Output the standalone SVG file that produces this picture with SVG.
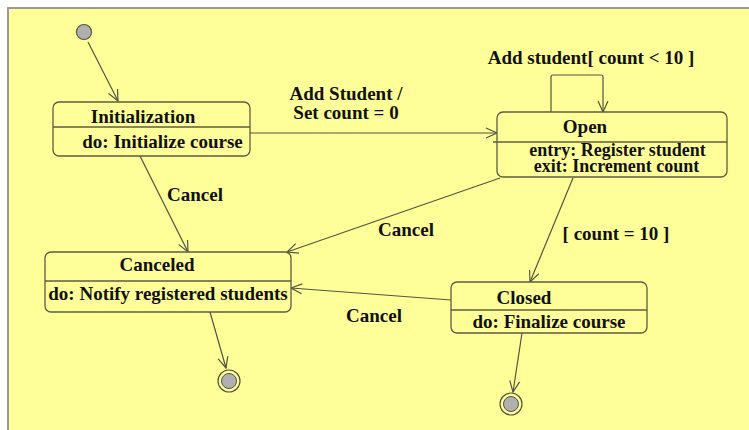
<svg xmlns="http://www.w3.org/2000/svg" width="749" height="430" viewBox="0 0 749 430">
<style>
.box{fill:#FFFF99;stroke:#5c5c40;stroke-width:1.3}
.div{stroke:#5c5c40;stroke-width:1.3}
.t{font-family:'Liberation Serif','Times New Roman',serif;font-weight:bold;font-size:19px;fill:#111;text-anchor:middle}
.s{font-size:18px}
.e{fill:none;stroke:#55553f;stroke-width:1.2;marker-end:url(#arr)}
.ini{fill:#b0b0b0;stroke:#55553f;stroke-width:1.2}
</style>
<defs>
<marker id="arr" markerUnits="userSpaceOnUse" markerWidth="14" markerHeight="14" viewBox="-12 -7 14 14" refX="0" refY="0" orient="auto">
<path d="M-11,-5 L0,0 L-11,5" fill="none" stroke="#55553f" stroke-width="1.2"/>
</marker>
</defs>
<rect x="0" y="0" width="749" height="430" fill="#ffffff"/>
<rect x="8" y="8" width="745" height="426" fill="#FFFF99" stroke="#999999" stroke-width="2"/>
<g id="connectors" font-family="Liberation Serif, serif">
<line class="e" x1="88" y1="42" x2="118" y2="101"/>
<line class="e" x1="250" y1="133" x2="497" y2="133"/>
<path class="e" d="M551,112 V77 Q551,75 553,75 H601 Q603,75 603,77 V112"/>
<line class="e" x1="140" y1="156" x2="188" y2="252"/>
<line class="e" x1="500" y1="178" x2="287" y2="252"/>
<line class="e" x1="573" y1="178" x2="530" y2="282"/>
<line class="e" x1="451" y1="300" x2="291" y2="288"/>
<line class="e" x1="210" y1="312" x2="226" y2="368"/>
<line class="e" x1="522" y1="333" x2="513" y2="392"/>
<text class="t" x="346" y="100">Add Student /</text>
<text class="t" x="346" y="119">Set count = 0</text>
<text class="t" x="591" y="64">Add student[ count &lt; 10 ]</text>
<text class="t" x="195" y="201">Cancel</text>
<text class="t" x="406" y="236">Cancel</text>
<text class="t" x="374" y="322">Cancel</text>
<text class="t" x="616" y="240">[ count = 10 ]</text>
</g>
<g id="initial">
<circle class="ini" cx="84" cy="32" r="7.5"/>
</g>
<g id="initialization" font-family="Liberation Serif, serif">
<rect class="box" x="53" y="102" width="197" height="54" rx="6"/>
<line class="div" x1="53" y1="127" x2="250" y2="127"/>
<text class="t" x="143" y="123">Initialization</text>
<text class="t" x="162.5" y="148">do: Initialize course</text>
</g>
<g id="open" font-family="Liberation Serif, serif">
<rect class="box" x="497" y="112" width="230" height="65" rx="6"/>
<line class="div" x1="493" y1="142" x2="727" y2="142"/>
<text class="t" x="585" y="133">Open</text>
<text class="t s" x="617.5" y="156">entry: Register student</text>
<text class="t s" x="616.5" y="172">exit: Increment count</text>
</g>
<g id="canceled" font-family="Liberation Serif, serif">
<rect class="box" x="45" y="252" width="246" height="60" rx="6"/>
<line class="div" x1="45" y1="281" x2="291" y2="281"/>
<text class="t" x="157" y="271">Canceled</text>
<text class="t" x="168" y="300">do: Notify registered students</text>
</g>
<g id="closed" font-family="Liberation Serif, serif">
<rect class="box" x="451" y="282" width="196" height="51" rx="6"/>
<line class="div" x1="451" y1="310" x2="647" y2="310"/>
<text class="t" x="524" y="304">Closed</text>
<text class="t" x="549" y="328">do: Finalize course</text>
</g>
<g id="final1">
<circle cx="229" cy="381" r="11" fill="#FFFF99" stroke="#55553f" stroke-width="1.2"/>
<circle cx="229" cy="381" r="7.5" fill="#b0b0b0" stroke="#55553f" stroke-width="1"/>
</g>
<g id="final2">
<circle cx="511" cy="404" r="11" fill="#FFFF99" stroke="#55553f" stroke-width="1.2"/>
<circle cx="511" cy="404" r="7.5" fill="#b0b0b0" stroke="#55553f" stroke-width="1"/>
</g>
</svg>
